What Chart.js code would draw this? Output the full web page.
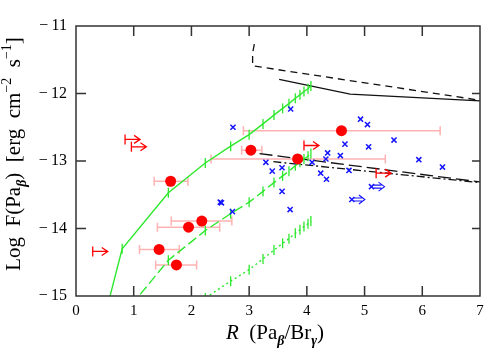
<!DOCTYPE html>
<html>
<head>
<meta charset="utf-8">
<script src="https://cdn.jsdelivr.net/npm/chart.js@4.4.0/dist/chart.umd.min.js"></script>
<style>
  html, body { margin: 0; padding: 0; background: #fff; }
</style>
</head>
<body>
<canvas id="c" width="491" height="356"></canvas>
<script>
// tick labels
const xTicks = [0, 1, 2, 3, 4, 5, 6, 7];
const yTicks = [-15, -14, -13, -12, -11];

// red points with horizontal error bars
const redX  = [3.03, 4.60, 3.84, 1.64, 2.18, 1.95, 1.44, 1.74];
const redY  = [-12.84, -12.55, -12.97, -13.30, -13.89, -13.98, -14.31, -14.54];
const redLo = [2.87, 2.90, 2.34, 1.355, 1.65, 1.41, 1.10, 1.38];
const redHi = [3.22, 6.31, 5.36, 1.94, 2.70, 2.49, 1.79, 2.09];

// red lower limits (arrows)
const redLimX = [0.85, 0.96, 0.29, 3.95, 5.20];
const redLimY = [-12.68, -12.79, -14.34, -12.77, -13.18];

// blue crosses
const blueX = [3.72, 4.93, 5.05, 4.66, 5.07, 5.51, 5.94, 6.35, 4.36, 4.58, 4.33, 3.29,
               3.40, 3.57, 3.83, 4.09, 4.24, 4.34, 4.73, 3.57, 3.71, 2.72, 2.50, 2.52, 2.71];
const blueY = [-12.23, -12.38, -12.46, -12.75, -12.79, -12.69, -12.98, -13.09, -12.88, -12.92, -12.97, -13.02,
               -13.15, -13.10, -13.01, -13.02, -13.18, -13.27, -13.14, -13.45, -13.72, -12.50, -13.61, -13.62, -13.75];
// blue lower limits
const blueLimX = [4.78, 5.12];
const blueLimY = [-13.57, -13.38];

// black curves
const topDashX = [3.09, 3.06, 3.06, 7.0];
const topDashY = [-11.27, -11.40, -11.59, -12.10];
const topSolidX = [3.52, 4.75, 7.0];
const topSolidY = [-11.79, -12.01, -12.11];
const lowDashX = [3.18, 7.0];
const lowDashY = [-12.89, -13.31];
const lowDotDashX = [3.42, 7.0];
const lowDotDashY = [-13.01, -13.32];

// green model tracks
const modelX = [0.50, 0.80, 1.60, 2.24, 2.68, 3.00, 3.24, 3.43, 3.58, 3.69, 3.80, 3.88, 3.95, 4.02, 4.07];
const greenSolidY  = [-15.30, -14.30, -13.47, -13.03, -12.78, -12.61, -12.45, -12.32, -12.22, -12.15, -12.07, -12.02, -11.97, -11.93, -11.89];
const greenDashY   = [-16.30, -15.30, -14.47, -14.03, -13.78, -13.61, -13.45, -13.32, -13.22, -13.15, -13.07, -13.02, -12.97, -12.93, -12.89];
const greenDottedY = [-17.30, -16.30, -15.47, -15.03, -14.78, -14.61, -14.45, -14.32, -14.22, -14.15, -14.07, -14.02, -13.97, -13.93, -13.89];

const GREEN = 'rgb(45,232,45)';
const RED = 'rgb(255,0,0)';
const PINK = 'rgb(255,178,178)';
const BLUE = 'rgb(20,20,255)';
const SERIF = '"Liberation Serif", "DejaVu Serif", serif';

function zip(xs, ys) {
  return xs.map((x, i) => ({ x: x, y: ys[i] }));
}

function minus(v) {
  return String(v).replace('-', '\u2212\u2009');
}

function blackLine(xs, ys, dash) {
  return {
    data: zip(xs, ys), showLine: true, borderColor: '#111', borderWidth: 1.3,
    borderDash: dash, pointRadius: 0, order: 5
  };
}

function greenLine(ys, dash) {
  return {
    data: zip(modelX, ys), showLine: true, borderColor: GREEN, borderWidth: 1.4,
    borderDash: dash, pointStyle: 'line', rotation: 90, pointRadius: 5,
    pointBorderColor: GREEN, pointBorderWidth: 1.3, order: 4
  };
}

// error bars behind the red points, limit arrows on top
const marksPlugin = {
  id: 'marks',
  beforeDatasetsDraw(chart) {
    const ctx = chart.ctx, sx = chart.scales.x, sy = chart.scales.y;
    ctx.save();
    ctx.strokeStyle = PINK;
    ctx.lineWidth = 1.5;
    for (let i = 0; i < redX.length; i++) {
      const y = sy.getPixelForValue(redY[i]);
      const a = sx.getPixelForValue(redLo[i]);
      const b = sx.getPixelForValue(redHi[i]);
      ctx.beginPath();
      ctx.moveTo(a, y); ctx.lineTo(b, y);
      ctx.moveTo(a, y - 4.5); ctx.lineTo(a, y + 4.5);
      ctx.moveTo(b, y - 4.5); ctx.lineTo(b, y + 4.5);
      ctx.stroke();
    }
    ctx.restore();
  },
  afterDatasetsDraw(chart) {
    const ctx = chart.ctx, sx = chart.scales.x, sy = chart.scales.y;
    ctx.save();
    // red lower limits
    ctx.strokeStyle = RED;
    ctx.lineWidth = 1.3;
    for (let i = 0; i < redLimX.length; i++) {
      const x = sx.getPixelForValue(redLimX[i]);
      const y = sy.getPixelForValue(redLimY[i]);
      ctx.beginPath();
      ctx.moveTo(x, y - 5); ctx.lineTo(x, y + 5);
      ctx.moveTo(x, y); ctx.lineTo(x + 15, y);
      ctx.moveTo(x + 9, y - 4); ctx.lineTo(x + 15, y); ctx.lineTo(x + 9, y + 4);
      ctx.stroke();
    }
    // blue lower limits (double arrows)
    ctx.strokeStyle = BLUE;
    ctx.lineWidth = 1.1;
    for (let i = 0; i < blueLimX.length; i++) {
      const x = sx.getPixelForValue(blueLimX[i]);
      const y = sy.getPixelForValue(blueLimY[i]);
      ctx.beginPath();
      ctx.moveTo(x + 2, y - 1.5); ctx.lineTo(x + 10, y - 1.5);
      ctx.moveTo(x + 2, y + 1.5); ctx.lineTo(x + 10, y + 1.5);
      ctx.moveTo(x + 7, y - 4.5); ctx.lineTo(x + 13, y); ctx.lineTo(x + 7, y + 4.5);
      ctx.stroke();
    }
    ctx.restore();
  }
};

function drawRich(ctx, parts, cx, baseline, size) {
  const fontOf = k => {
    const small = Math.round(size * 0.68);
    if (k === 'i') return 'italic ' + size + 'px ' + SERIF;
    if (k === 'sub') return 'bold italic ' + small + 'px ' + SERIF;
    if (k === 'sup') return small + 'px ' + SERIF;
    return size + 'px ' + SERIF;
  };
  let w = 0;
  parts.forEach(p => { ctx.font = fontOf(p[1]); w += ctx.measureText(p[0]).width; });
  let x = cx - w / 2;
  ctx.textAlign = 'left';
  ctx.textBaseline = 'alphabetic';
  parts.forEach(p => {
    ctx.font = fontOf(p[1]);
    const dy = p[1] === 'sub' ? size * 0.28 : (p[1] === 'sup' ? -size * 0.42 : 0);
    ctx.fillText(p[0], x, baseline + dy);
    x += ctx.measureText(p[0]).width;
  });
}

const framePlugin = {
  id: 'frame',
  afterDraw(chart) {
    const ctx = chart.ctx, a = chart.chartArea;
    const sx = chart.scales.x, sy = chart.scales.y;
    ctx.save();
    ctx.strokeStyle = '#333';
    ctx.lineWidth = 1.5;
    ctx.strokeRect(a.left, a.top, a.right - a.left, a.bottom - a.top);
    ctx.beginPath();
    xTicks.slice(1, -1).forEach(v => {
      const x = sx.getPixelForValue(v);
      ctx.moveTo(x, a.bottom); ctx.lineTo(x, a.bottom - 10);
      ctx.moveTo(x, a.top); ctx.lineTo(x, a.top + 10);
    });
    yTicks.slice(1, -1).forEach(v => {
      const y = sy.getPixelForValue(v);
      ctx.moveTo(a.left, y); ctx.lineTo(a.left + 10, y);
      ctx.moveTo(a.right, y); ctx.lineTo(a.right - 8, y);
    });
    ctx.stroke();

    ctx.fillStyle = '#000';
    drawRich(ctx, [['R', 'i'], ['  (Pa', 'n'], ['\u03b2', 'sub'], ['/Br', 'n'], ['\u03b3', 'sub'], [')', 'n']],
      275, 339, 21);
    ctx.translate(20, 154);
    ctx.rotate(-Math.PI / 2);
    drawRich(ctx, [['Log  F(Pa', 'n'], ['\u03b2', 'sub'], [')  [erg  cm', 'n'], ['\u22122', 'sup'],
      ['  s', 'n'], ['\u22121', 'sup'], [']', 'n']], 0, 0, 21);
    ctx.restore();
  }
};

new Chart(document.getElementById('c'), {
  type: 'scatter',
  data: {
    datasets: [
      { data: zip(redX, redY), pointStyle: 'circle', pointRadius: 5.5, backgroundColor: RED,
        borderWidth: 0, order: 1 },
      { data: zip(blueX, blueY), pointStyle: 'crossRot', pointRadius: 3.6, borderColor: BLUE,
        borderWidth: 1.5, order: 2 },
      { data: zip(blueLimX, blueLimY), pointStyle: 'crossRot', pointRadius: 3.6, borderColor: BLUE,
        borderWidth: 1.5, order: 2 },
      greenLine(greenSolidY, []),
      greenLine(greenDashY, [10, 4]),
      greenLine(greenDottedY, [2, 3]),
      blackLine(topDashX, topDashY, [7, 5]),
      blackLine(topSolidX, topSolidY, []),
      blackLine(lowDashX, lowDashY, [13, 5]),
      blackLine(lowDotDashX, lowDotDashY, [8, 3, 2, 3])
    ]
  },
  options: {
    responsive: false,
    animation: false,
    layout: { padding: { top: 26, right: 11, left: 0, bottom: 0 } },
    plugins: { legend: { display: false }, tooltip: { enabled: false } },
    scales: {
      x: {
        type: 'linear', min: 0, max: 7,
        grid: { display: false, drawTicks: false },
        border: { display: false },
        afterBuildTicks: s => { s.ticks = xTicks.map(v => ({ value: v })); },
        afterFit: s => { s.height = 60; },
        ticks: { padding: 6, color: '#000', autoSkip: false, maxRotation: 0,
                 font: { family: SERIF, size: 15 }, callback: v => minus(v) }
      },
      y: {
        type: 'linear', min: -15, max: -11,
        grid: { display: false, drawTicks: false },
        border: { display: false },
        afterBuildTicks: s => { s.ticks = yTicks.map(v => ({ value: v })); },
        afterFit: s => { s.width = 76; },
        ticks: { padding: 9, color: '#000', autoSkip: false,
                 font: { family: SERIF, size: 16 }, callback: v => minus(v) }
      }
    }
  },
  plugins: [marksPlugin, framePlugin]
});
</script>
</body>
</html>
